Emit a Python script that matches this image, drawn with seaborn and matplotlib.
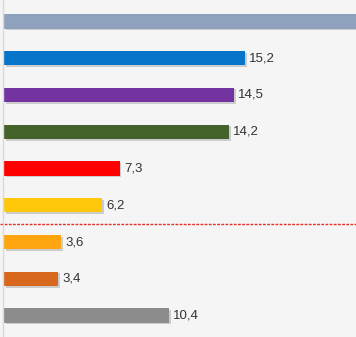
import matplotlib
matplotlib.use("Agg")
import matplotlib.pyplot as plt
import matplotlib.patheffects as pe
import seaborn as sns
import pandas as pd

categories = ["C1", "C2", "C3", "C4", "C5", "C6", "C7", "C8", "C9"]
values = [24.5, 15.2, 14.5, 14.2, 7.3, 6.2, 3.6, 3.4, 10.4]
labels = ["24,5", "15,2", "14,5", "14,2", "7,3", "6,2", "3,6", "3,4", "10,4"]
colors = ["#8ea2bd", "#0674c8", "#7334a2", "#43632b", "#fe0000",
          "#ffc80b", "#ffa50f", "#d8681e", "#8c8c8c"]

df = pd.DataFrame({"cat": categories, "val": values})

sns.set_theme(style="white")
plt.rcParams["font.family"] = ["Liberation Sans", "DejaVu Sans"]

fig = plt.figure(figsize=(3.56, 3.37), dpi=100)
fig.patch.set_facecolor("#f5f5f5")
ax = fig.add_axes([0, 0, 1, 1])
ax.set_facecolor("#f5f5f5")

sns.barplot(data=df, x="val", y="cat", hue="cat", palette=colors,
            orient="h", width=0.39, legend=False, ax=ax, saturation=1,
            linewidth=0)

for p in ax.patches:
    p.set_linewidth(0)
    p.set_path_effects([pe.SimplePatchShadow(offset=(1.2, -1.2), shadow_rgbFace="#808080", alpha=0.35),
                        pe.Normal()])

for i, (v, lab) in enumerate(zip(values, labels)):
    ax.annotate(lab, xy=(v, i), xytext=(3, 0), textcoords="offset points",
                va="center", ha="left", fontsize=9.5, color="#333333")

ax.axhline(5.5, color="#e8302a", linestyle=(0, (2, 1)), linewidth=1.0)

ax.set_xlim(-0.25, 22.2)
ax.set_ylim(8.585, -0.585)
ax.set_xlabel("")
ax.set_ylabel("")
ax.set_xticks([])
ax.set_yticks([])
for s in ["top", "right", "bottom"]:
    ax.spines[s].set_visible(False)
ax.spines["left"].set_position(("data", -0.05))
ax.spines["left"].set_color("#d9d9d9")
ax.spines["left"].set_linewidth(1.0)

fig.savefig("out.png", dpi=100, facecolor=fig.get_facecolor())
